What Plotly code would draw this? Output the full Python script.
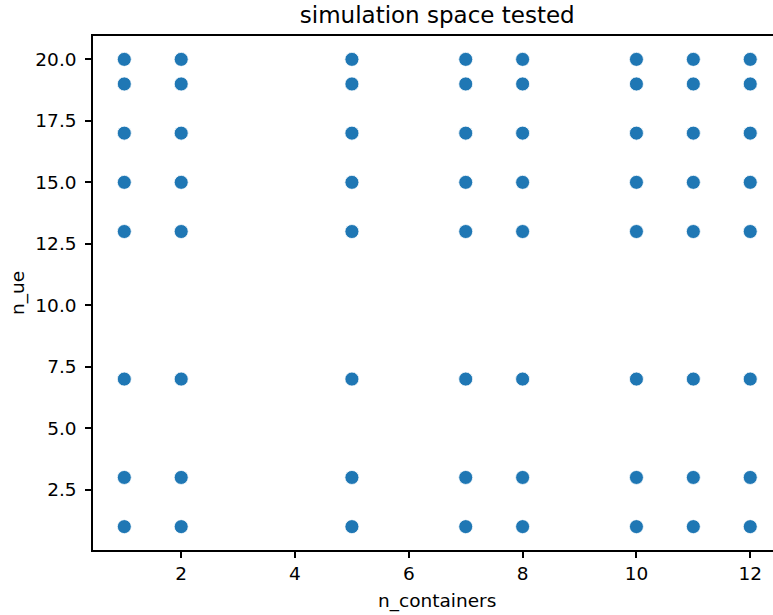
import plotly.graph_objects as go

n_containers = [1, 2, 5, 7, 8, 10, 11, 12]
n_ue = [1, 3, 7, 13, 15, 17, 19, 20]
x_ticks = [2, 4, 6, 8, 10, 12]
y_ticks = [2.5, 5, 7.5, 10, 12.5, 15, 17.5, 20]
y_tick_labels = ["2.5", "5.0", "7.5", "10.0", "12.5", "15.0", "17.5", "20.0"]

xs, ys = [], []
for c in n_containers:
    for u in n_ue:
        xs.append(c)
        ys.append(u)

W, H = 773, 615
L, R, T, B = 93, 0, 36, 65
PW = W - L - R

fig = go.Figure(go.Scatter(
    x=xs, y=ys, mode="markers",
    marker=dict(size=14, color="#1f77b4", line=dict(color="white", width=0.8)),
))

font = dict(family="DejaVu Sans", size=18.5, color="black")
xr = [0.45, 12.4]
xc = (6.5 - xr[0]) / (xr[1] - xr[0])
fig.update_layout(
    width=W, height=H,
    margin=dict(l=L, r=R, t=T, b=B, autoexpand=False),
    plot_bgcolor="white", paper_bgcolor="white",
    showlegend=False,
    font=font,
    title=dict(text="simulation space tested", x=xc, xanchor="center",
               xref="paper", yref="container", y=1 - 15 / H, yanchor="middle",
               font=dict(family="DejaVu Sans", size=23, color="black")),
    annotations=[
        dict(text="n_containers", xref="paper", yref="paper", x=xc, y=0,
             xanchor="center", yanchor="middle", yshift=-51, showarrow=False,
             font=font),
        dict(text="n_ue", xref="paper", yref="paper", x=(18 - L) / PW, y=0.5,
             xanchor="center", yanchor="middle", textangle=-90, showarrow=False,
             font=font),
    ],
)
fig.update_xaxes(
    range=xr, tickvals=x_ticks,
    showgrid=False, zeroline=False, automargin=False,
    showline=True, linecolor="black", linewidth=1.5, mirror=True,
    ticks="outside", ticklen=6, tickwidth=1.5, tickcolor="black",
    ticklabelstandoff=0,
)
fig.update_yaxes(
    range=[0.05, 20.95], tickvals=y_ticks, ticktext=y_tick_labels,
    showgrid=False, zeroline=False, automargin=False,
    showline=True, linecolor="black", linewidth=1.5,
    ticks="outside", ticklen=6, tickwidth=1.5, tickcolor="black",
    ticklabelstandoff=5,
)
fig.write_html("out.html", config={"displayModeBar": False},
               post_script="document.body.style.margin='0px';")
